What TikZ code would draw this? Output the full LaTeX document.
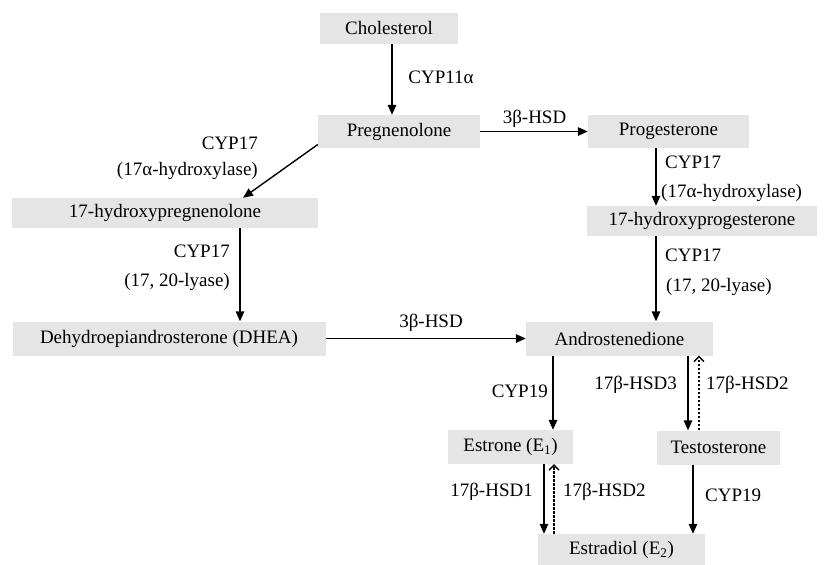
\documentclass[tikz,border=0pt]{standalone}
\usepackage{fontspec}
\setmainfont{Liberation Serif}
\usetikzlibrary{arrows.meta,calc}
\definecolor{boxgray}{RGB}{229,229,229}
\begin{document}
\begin{tikzpicture}[x=1pt,y=-1pt, font=\fontsize{19}{22}\selectfont,
  box/.style={fill=boxgray, inner sep=0pt, anchor=center},
  arr/.style={-{Triangle[length=10pt,width=8.5pt]}, line width=1.4pt},
  darr/.style={-{Straight Barb[length=5pt,width=10pt,line width=1.4pt]}, line width=1.4pt, dash pattern=on 2.5pt off 1.5pt},
  lab/.style={inner sep=0pt}]
\useasboundingbox (0,0) rectangle (825,565);
% boxes
\node[box, minimum width=138pt, minimum height=31pt] (chol) at (389,28.5) {Cholesterol};
\node[box, minimum width=162pt, minimum height=33pt] (preg) at (399,131.5) {Pregnenolone};
\node[box, minimum width=161pt, minimum height=33pt] (prog) at (668.5,131.5) {Progesterone};
\node[box, minimum width=306pt, minimum height=30pt] (ohpreg) at (165,213) {17-hydroxypregnenolone};
\node[box, minimum width=230pt, minimum height=30pt] (ohprog) at (702,221) {17-hydroxyprogesterone};
\node[box, minimum width=313pt, minimum height=34pt] (dhea) at (169,338.5) {Dehydroepiandrosterone (DHEA)};
\node[box, minimum width=187pt, minimum height=34pt] (andro) at (619.5,338.5) {Androstenedione};
\node[box, minimum width=125pt, minimum height=34pt] (estrone) at (510.5,447) {Estrone (E\textsubscript{1})};
\node[box, minimum width=123pt, minimum height=34pt] (testo) at (718.5,447.5) {Testosterone};
\node[box, minimum width=167pt, minimum height=32pt] (estradiol) at (621.5,550) {Estradiol (E\textsubscript{2})};
% helper coordinates
\coordinate (c1) at ([xshift=3pt]chol.south);
\coordinate (c2) at ([xshift=75pt]ohpreg.south);
\coordinate (c3) at ([xshift=-12.5pt]prog.south);
\coordinate (c3b) at ([xshift=-46pt]ohprog.south);
\coordinate (c4) at ([xshift=-66.5pt]andro.south);
\coordinate (c5) at ([xshift=68.5pt]andro.south);
\coordinate (c6) at ([xshift=79.5pt]andro.south);
\coordinate (c7) at ([xshift=33.5pt]estrone.south);
\coordinate (c8) at ([xshift=43.5pt]estrone.south);
\coordinate (c9) at ([xshift=-25.5pt]testo.south);
\coordinate (p1) at ([yshift=-13pt]preg.west);
\coordinate (p2) at ([xshift=78pt]ohpreg.north);
% arrows
\draw[arr] (c1) -- (c1 |- preg.north);
\draw[arr] (preg.east) -- (prog.west);
\draw[arr] (p1) -- (p2);
\draw[arr] (c2) -- (c2 |- dhea.north);
\draw[arr] (c3) -- (c3 |- ohprog.north);
\draw[arr] (c3b) -- (c3b |- andro.north);
\draw[arr] (dhea.east) -- (andro.west);
\draw[arr] (c4) -- (c4 |- estrone.north);
\draw[arr] (c5) -- (c5 |- testo.north);
\draw[darr] (c6 |- testo.north) -- (c6);
\draw[arr] (c7) -- (c7 |- estradiol.north);
\draw[darr] (c8 |- estradiol.north) -- (c8);
\draw[arr] (c9) -- (c9 |- estradiol.north);
% labels
\node[lab] (l1) at (441,77) {CYP11α};
\node[lab] (l2) at (534.5,119) {3β-HSD};
\node[lab, anchor=east] (l3) at (258,143) {CYP17};
\node[lab, anchor=east] (l4) at (258,171) {(17α-hydroxylase)};
\node[lab, anchor=east] (l5) at (230,251) {CYP17};
\node[lab, anchor=east] (l6) at (230,282) {(17, 20-lyase)};
\node[lab, anchor=west] (l7) at (665,162) {CYP17};
\node[lab, anchor=west] (l8) at (661,193) {(17α-hydroxylase)};
\node[lab, anchor=west] (l9) at (665,255) {CYP17};
\node[lab, anchor=west] (l10) at (666,287) {(17, 20-lyase)};
\node[lab] (l11) at (431,323) {3β-HSD};
\node[lab, anchor=east] (l12) at (548,391) {CYP19};
\node[lab, anchor=east] (l13) at (677,385) {17β-HSD3};
\node[lab, anchor=west] (l14) at (706,385) {17β-HSD2};
\node[lab, anchor=east] (l15) at (533,492) {17β-HSD1};
\node[lab, anchor=west] (l16) at (563,492) {17β-HSD2};
\node[lab, anchor=west] (l17) at (705,495) {CYP19};
\end{tikzpicture}
\end{document}
